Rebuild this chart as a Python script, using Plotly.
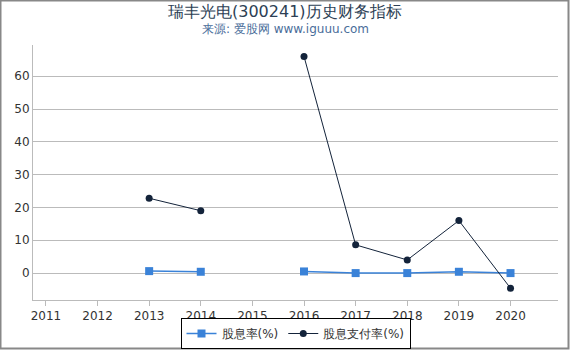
import plotly.graph_objects as go

years = [2011, 2012, 2013, 2014, 2015, 2016, 2017, 2018, 2019, 2020]
dividend_yield = [None, None, 0.6, 0.4, None, 0.5, 0.0, 0.0, 0.4, 0.0]
payout_ratio = [None, None, 22.8, 19.0, None, 66.0, 8.6, 4.0, 16.0, -4.6]
tick_vals = [0, 10, 20, 30, 40, 50, 60]

W, H = 570, 350
L, R, T, B = 33, 12, 45, 50
pw, ph = W - L - R, H - T - B

def px(x):
    return (x - L) / pw

def py(y):
    return 1 - (y - T) / ph

fig = go.Figure()
fig.add_trace(go.Scatter(
    x=years, y=dividend_yield, name="股息率(%)", mode="lines+markers",
    line=dict(color="#3a82d8", width=1.5),
    marker=dict(symbol="square", size=8, color="#3a82d8"),
    connectgaps=False,
))
fig.add_trace(go.Scatter(
    x=years, y=payout_ratio, name="股息支付率(%)", mode="lines+markers",
    line=dict(color="#13233a", width=1),
    marker=dict(symbol="circle", size=7, color="#13233a"),
    connectgaps=False,
))

fig.update_layout(
    width=W, height=H,
    margin=dict(l=L, r=R, t=T, b=B, autoexpand=False),
    paper_bgcolor="white", plot_bgcolor="white",
    font=dict(family="DejaVu Sans", size=12, color="#333"),
    xaxis=dict(
        range=[2010.75, 2020.92], tickmode="array", tickvals=years,
        ticktext=[str(y) for y in years],
        showgrid=False, zeroline=False, showline=True, linecolor="#bbb",
        ticks="outside", ticklen=5, tickcolor="#bbb",
        tickfont=dict(size=12, color="#333"),
    ),
    yaxis=dict(
        range=[-8.2, 69.5], tickmode="array", tickvals=tick_vals,
        showgrid=True, gridcolor="#bbb", zeroline=False,
        showline=True, linecolor="#bbb",
        ticks="", tickfont=dict(size=12, color="#333"),
    ),
    legend=dict(
        orientation="h", x=0.5, xanchor="center", y=py(349), yanchor="bottom",
        bordercolor="black", borderwidth=1, bgcolor="white",
        font=dict(size=12, color="#333"), itemwidth=30,
    ),
    showlegend=True,
    annotations=[
        dict(text="瑞丰光电(300241)历史财务指标", xref="paper", yref="paper",
             x=px(W / 2), y=py(11.5),
             xanchor="center", yanchor="middle", showarrow=False,
             font=dict(size=16, color="#2d3f55")),
        dict(text="来源: 爱股网 www.iguuu.com", xref="paper", yref="paper",
             x=px(W / 2), y=py(29),
             xanchor="center", yanchor="middle", showarrow=False,
             font=dict(size=12, color="#4a6d9a")),
    ],
    shapes=[dict(
        type="rect", xref="paper", yref="paper",
        x0=px(0.5), x1=px(568.5), y0=py(0.5), y1=py(348.5),
        line=dict(color="#888", width=2), layer="above",
    )],
)

fig.write_html("out.html")
